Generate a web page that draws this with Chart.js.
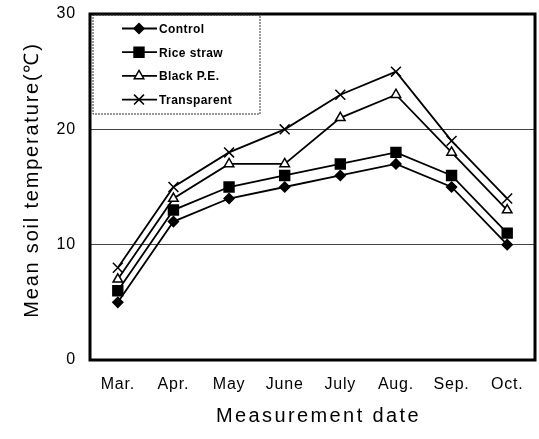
<!DOCTYPE html>
<html>
<head>
<meta charset="utf-8">
<script src="https://cdn.jsdelivr.net/npm/chart.js@4/dist/chart.umd.min.js"></script>
<style>
  html, body { margin:0; padding:0; background:#fff; }
  #wrap { width:539px; height:439px; position:relative; }
</style>
</head>
<body>
<div id="wrap"><canvas id="c" width="539" height="439"></canvas></div>
<script>
// chart data
const months = ['Mar.', 'Apr.', 'May', 'June', 'July', 'Aug.', 'Sep.', 'Oct.'];
const control = [5, 12, 14, 15, 16, 17, 15, 10];
const riceStraw = [6, 13, 15, 16, 17, 18, 16, 11];
const blackPE = [7, 14, 17, 17, 21, 23, 18, 13];
const transparent = [8, 15, 18, 20, 23, 25, 19, 14];
const yTicks = [0, 10, 20, 30];

const FONT = '"Liberation Sans", Arial, sans-serif';
const SIZES = { rectRot:5, rect:7, triangle:5.5, crossRot:7 };

function series(label, data, style, fill){
  return { label, data, borderColor:'#000', borderWidth:1.8, pointStyle:style,
    pointRadius: SIZES[style], pointBorderColor:'#000',
    pointBackgroundColor: fill, pointBorderWidth:1.5, tension:0 };
}

// wrap a scale's text drawing: extra glyph spacing, small title shift
function spaced(s, titleSp, tickSp, dx, dy){
  if (s._spaced) return;
  s._spaced = true;
  const dt = s.drawTitle.bind(s), dl = s.drawLabels.bind(s);
  s.drawTitle = function(){ const c = this.ctx; c.save(); c.translate(dx, dy); c.letterSpacing = titleSp; dt(); c.restore(); };
  s.drawLabels = function(a){ const c = this.ctx; c.save(); c.letterSpacing = tickSp; dl(a); c.restore(); };
}

// frame round the plot + legend box inside it
const frame = {
  id:'frame',
  afterDraw(chart){
    const {ctx, chartArea:a} = chart;
    ctx.save();
    ctx.strokeStyle = '#000'; ctx.lineWidth = 3;
    ctx.strokeRect(a.left, a.top, a.right - a.left, a.bottom - a.top);
    // legend
    const lx = a.left + 3, ly = a.top + 1, lw = 167, lh = 99;
    ctx.strokeStyle = '#333'; ctx.lineWidth = 1;
    ctx.setLineDash([2, 1]);
    ctx.strokeRect(lx, ly, lw, lh);
    ctx.setLineDash([]);
    ctx.font = 'bold 12px ' + FONT;
    ctx.letterSpacing = '0.4px';
    ctx.textBaseline = 'middle';
    chart.data.datasets.forEach((ds, i) => {
      const y = ly + 13.5 + i * 23.7;
      ctx.strokeStyle = '#000'; ctx.lineWidth = 1.8;
      ctx.beginPath(); ctx.moveTo(lx + 29, y); ctx.lineTo(lx + 64, y); ctx.stroke();
      ctx.fillStyle = ds.pointBackgroundColor; ctx.lineWidth = 1.5;
      Chart.helpers.drawPoint(ctx, { pointStyle: ds.pointStyle, radius: ds.pointRadius, rotation:0, borderWidth:1.5 }, lx + 46, y);
      ctx.fillStyle = '#000';
      ctx.fillText(ds.label, lx + 66, y + 1);
    });
    ctx.restore();
  }
};

new Chart(document.getElementById('c'), {
  type:'line',
  data:{ labels: months, datasets:[
    series('Control', control, 'rectRot', '#000'),
    series('Rice straw', riceStraw, 'rect', '#000'),
    series('Black P.E.', blackPE, 'triangle', '#fff'),
    series('Transparent', transparent, 'crossRot', '#000')
  ]},
  options:{
    responsive:false, animation:false,
    layout:{ autoPadding:false, padding:{ left:16, right:4, top:14, bottom:11 } },
    plugins:{ legend:{ display:false }, tooltip:{ enabled:false } },
    scales:{
      x:{ offset:true,
        afterFit(s){ s.height = 68; s.paddingLeft = 0; s.paddingRight = 0; spaced(s, '2.4px', '0.8px', 6, 0); },
        grid:{ display:false, drawTicks:false },
        border:{ display:false },
        ticks:{ color:'#000', font:{ family:FONT, size:16 }, padding:15 },
        title:{ display:true, text:'Measurement date', color:'#000', font:{ family:FONT, size:20 }, padding:{ top:0, bottom:0 } }
      },
      y:{ min:0, max:30,
        afterBuildTicks(s){ s.ticks = yTicks.map(v => ({ value:v })); },
        afterFit(s){ s.width = 74; s.paddingTop = 0; s.paddingBottom = 0; spaced(s, '1.8px', '0.8px', 0, -7); },
        grid:{ drawTicks:false, lineWidth:1, color: c => (c.tick.value === 0 || c.tick.value === 30) ? 'rgba(0,0,0,0)' : '#444' },
        border:{ display:false },
        ticks:{ color:'#000', font:{ family:FONT, size:16 }, padding:14 },
        title:{ display:true, text:'Mean soil temperature(℃)', color:'#000', font:{ family:FONT, size:20 }, padding:{ top:4, bottom:0 } }
      }
    }
  },
  plugins:[frame]
});
</script>
</body>
</html>
